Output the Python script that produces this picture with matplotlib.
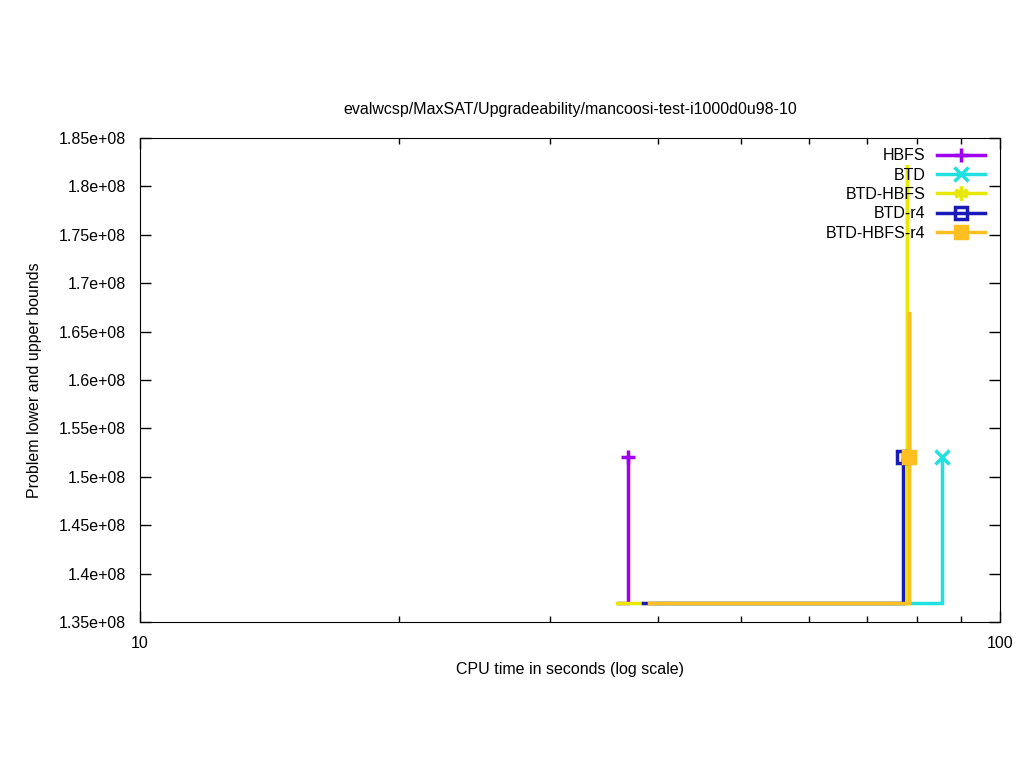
import numpy as np
import matplotlib
matplotlib.use("Agg")
import matplotlib.pyplot as plt
from matplotlib.lines import Line2D
from matplotlib.ticker import FixedLocator, FuncFormatter, NullFormatter

plt.rcParams['font.family'] = ['Liberation Sans', 'DejaVu Sans']
plt.rcParams['font.size'] = 11.5

# series: lower bound then upper bound steps, last point is the final solution
names = ["HBFS", "BTD", "BTD-HBFS", "BTD-r4", "BTD-HBFS-r4"]
hbfs_x = [36.0, 36.97, 36.97]
hbfs_y = [1.37e8, 1.37e8, 1.52e8]
btd_x = [40.0, 85.6, 85.6]
btd_y = [1.37e8, 1.37e8, 1.52e8]
btdhbfs_x = [35.87, 77.96, 77.96, 77.96]
btdhbfs_y = [1.37e8, 1.37e8, 1.822e8, 1.52e8]
btdr4_x = [38.5, 77.2, 77.2]
btdr4_y = [1.37e8, 1.37e8, 1.52e8]
btdhbfsr4_x = [39.1, 78.4, 78.4, 78.4]
btdhbfsr4_y = [1.37e8, 1.37e8, 1.67e8, 1.52e8]

xs = [hbfs_x, btd_x, btdhbfs_x, btdr4_x, btdhbfsr4_x]
ys = [hbfs_y, btd_y, btdhbfs_y, btdr4_y, btdhbfsr4_y]
colors = ["#a000f0", "#20e0e0", "#e8e800", "#1a1ab8", "#ffbf20"]
markers = ["+", "x", (6, 2, 0), "s", "s"]
mfcs = [None, None, None, "none", None]

fig = plt.figure(figsize=(10.24, 7.68), dpi=100)
ax = fig.add_axes([140/1024, 146/768, 860/1024, 484/768])

handles = []
for x, y, c, m, f, n in zip(xs, ys, colors, markers, mfcs, names):
    ax.plot(x, y, color=c, lw=2.5, solid_joinstyle='miter')
    kw = dict(color=c, marker=m, ms=10, mew=2.5, ls='')
    if f is not None:
        kw['mfc'] = f
    if m == "s":
        kw['ms'] = 8
    ax.plot([x[-1]], [y[-1]], **kw)
    handles.append(Line2D([], [], lw=2.5, label=n, **{k: v for k, v in kw.items() if k != 'ls'}))

ax.set_xscale('log')
ax.set_xlim(10, 100)
ax.set_ylim(1.35e8, 1.85e8)
ax.xaxis.set_major_locator(FixedLocator([10, 100]))
ax.xaxis.set_major_formatter(FuncFormatter(lambda v, p: "%g" % v))
ax.xaxis.set_minor_locator(FixedLocator(np.arange(20, 100, 10)))
ax.xaxis.set_minor_formatter(NullFormatter())
ax.yaxis.set_major_locator(FixedLocator(np.arange(1.35e8, 1.8501e8, 0.05e8)))
ax.yaxis.set_major_formatter(FuncFormatter(lambda v, p: "%g" % v))
ax.tick_params(which='both', direction='in', top=True, right=True, width=1)
ax.tick_params(which='major', length=8)
ax.tick_params(which='minor', length=4)
ax.tick_params(axis='y', which='major', pad=10)
ax.tick_params(axis='x', which='major', pad=10)

ax.set_title("evalwcsp/MaxSAT/Upgradeability/mancoosi-test-i1000d0u98-10", pad=17,
             fontsize=11.5)
ax.set_xlabel("CPU time in seconds (log scale)", labelpad=8)
ax.set_ylabel("Problem lower and upper bounds", labelpad=12)

ax.legend(handles=handles, loc='upper right', bbox_to_anchor=(1 - 5/860, 1),
          frameon=False, markerfirst=False,
          handlelength=3.0, labelspacing=0.27, borderaxespad=0.25, handletextpad=0.7,
          fontsize=11.5)

fig.savefig("out.png", dpi=100)
